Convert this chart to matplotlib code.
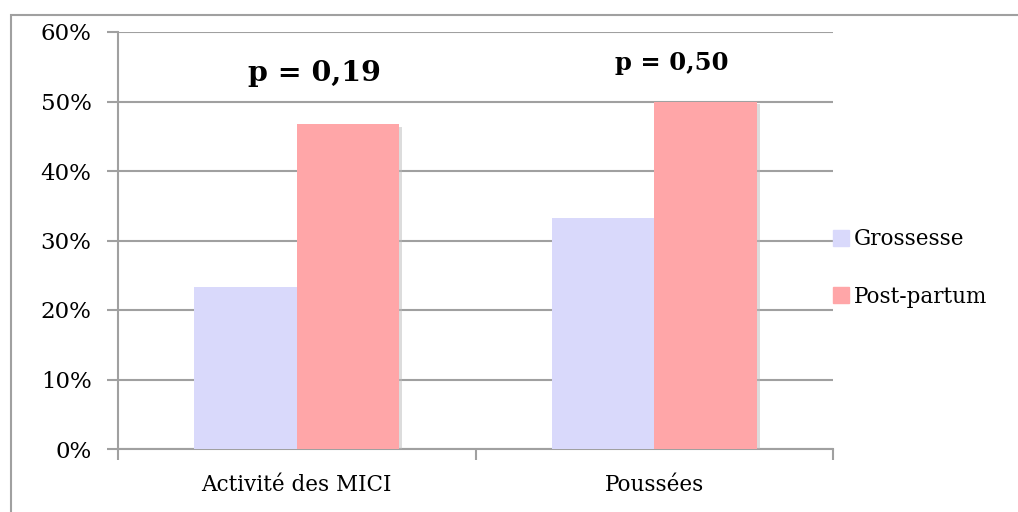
import matplotlib.pyplot as plt
import matplotlib.patheffects as pe
from matplotlib.patches import Patch
import numpy as np

categories = ["Activité des MICI", "Poussées"]
grossesse = [23.3, 33.3]
post_partum = [46.7, 50.0]
p_values = ["p = 0,19", "p = 0,50"]
y_ticks = [0, 10, 20, 30, 40, 50, 60]

col_g = "#D9D9FB"
col_p = "#FFA6A8"
grid_col = "#A0A0A0"

plt.rcParams["font.family"] = ["DejaVu Serif"]

fig = plt.figure(figsize=(10.18, 5.12), dpi=100)
ax = fig.add_axes([118 / 1018, 1 - 449 / 512, (833 - 118) / 1018, (449 - 32) / 512])

# cadre gris autour du graphique
fig.patches.append(plt.Rectangle((11 / 1018, -0.1), 1.2, 1 - 15 / 512 + 0.1,
                                 transform=fig.transFigure, fill=False,
                                 edgecolor=grid_col, linewidth=1.5))

x = np.arange(len(categories))
w = 0.287
shadow = [pe.SimplePatchShadow(offset=(2, -2), shadow_rgbFace="#BBBBBB", alpha=0.5), pe.Normal()]
b1 = ax.bar(x - w / 2, grossesse, w, color=col_g, zorder=3)
b2 = ax.bar(x + w / 2, post_partum, w, color=col_p, zorder=3)
for b in list(b1) + list(b2):
    b.set_path_effects(shadow)

ax.set_xlim(-0.5, 1.5)
ax.set_ylim(0, 60)
ax.set_yticks(y_ticks)
ax.set_yticklabels([f"{t}%" for t in y_ticks], fontsize=16.5)
ax.yaxis.grid(True, color=grid_col, linewidth=1.5, zorder=0)
ax.set_xticks(x)
ax.set_xticklabels(categories, fontsize=15.5)
ax.tick_params(axis="x", length=0, pad=18)
ax.set_xticks([-0.5, 0.5, 1.5], minor=True)
ax.tick_params(axis="x", which="minor", length=8, color=grid_col, width=1.5)
ax.tick_params(axis="y", length=8, color=grid_col, width=1.5, pad=11)
for s in ["top", "right"]:
    ax.spines[s].set_visible(False)
for s in ["left", "bottom"]:
    ax.spines[s].set_color(grid_col)
    ax.spines[s].set_linewidth(1.5)

ax.text(x[0] + 0.05, 54, p_values[0], ha="center", va="center", fontsize=20.5, fontweight="bold")
ax.text(x[1] + 0.05, 55.6, p_values[1], ha="center", va="center", fontsize=17.5, fontweight="bold")

handles = [Patch(color=col_g, label="Grossesse"), Patch(color=col_p, label="Post-partum")]
ax.legend(handles=handles, loc="center left", bbox_to_anchor=(0.985, 0.434), frameon=False,
          fontsize=15.5, handlelength=0.75, handleheight=0.75, handletextpad=0.2,
          labelspacing=1.65, borderpad=0)

fig.savefig("out.png")
